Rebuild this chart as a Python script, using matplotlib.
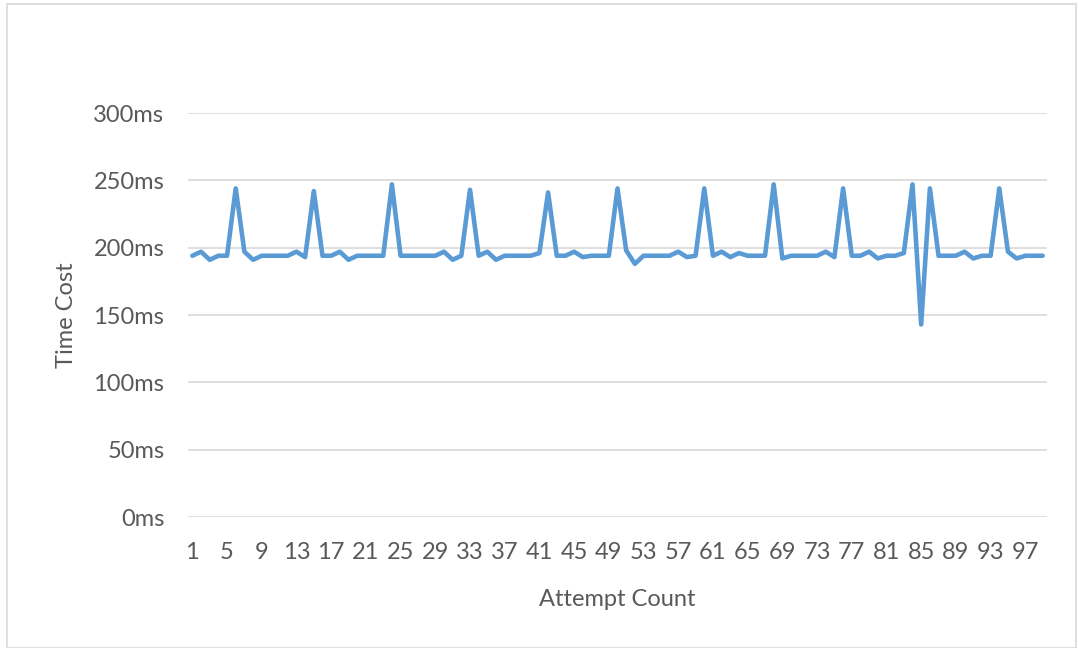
import matplotlib
matplotlib.use("Agg")
import matplotlib.pyplot as plt
from matplotlib.patches import Rectangle

plt.rcParams['font.family'] = ['Lato', 'DejaVu Sans']

# timing of each attempt, in ms
attempts = list(range(1, 100))
time_cost = [
    194, 197, 191, 194, 194, 244, 197, 191, 194, 194,
    194, 194, 197, 193, 242, 194, 194, 197, 191, 194,
    194, 194, 194, 247, 194, 194, 194, 194, 194, 197,
    191, 194, 243, 194, 197, 191, 194, 194, 194, 194,
    196, 241, 194, 194, 197, 193, 194, 194, 194, 244,
    198, 188, 194, 194, 194, 194, 197, 193, 194, 244,
    194, 197, 193, 196, 194, 194, 194, 247, 192, 194,
    194, 194, 194, 197, 193, 244, 194, 194, 197, 192,
    194, 194, 196, 247, 143, 244, 194, 194, 194, 197,
    192, 194, 194, 244, 197, 192, 194, 194, 194,
]
y_ticks = [0, 50, 100, 150, 200, 250, 300]
x_ticks = attempts[::4]

text_col = '#595959'
grid_col = '#d9d9d9'
fs = 17

fig = plt.figure(figsize=(10.78, 6.48), dpi=100)
# chart frame
fig.patches.append(Rectangle((7 / 1078, 0.5 / 648), 1069 / 1078, 644 / 648,
                             transform=fig.transFigure, fill=False,
                             edgecolor=grid_col, lw=1.2))

ax = fig.add_axes([188 / 1078, 1 - 517 / 648, 859 / 1078, 404 / 648])
ax.plot(attempts, time_cost, color='#5b9bd5', lw=3.3,
        solid_joinstyle='round', solid_capstyle='round', zorder=3)

ax.set_xlim(0.5, len(attempts) + 0.5)
ax.set_ylim(0, 300)
ax.set_yticks(y_ticks)
ax.set_yticklabels([f'{v}ms' for v in y_ticks])
ax.set_xticks(x_ticks)
ax.set_xticklabels([str(v) for v in x_ticks])
ax.grid(axis='y', color=grid_col, lw=1.2)
ax.set_axisbelow(True)
for s in ax.spines.values():
    s.set_visible(False)
ax.tick_params(axis='both', length=0, labelsize=fs, colors=text_col)
ax.tick_params(axis='y', pad=17)
ax.tick_params(axis='x', pad=18)

ax.set_xlabel('Attempt Count', fontsize=fs, color=text_col, labelpad=19)
ax.set_ylabel('Time Cost', fontsize=fs, color=text_col, labelpad=12)

fig.savefig('out.png', dpi=100)
